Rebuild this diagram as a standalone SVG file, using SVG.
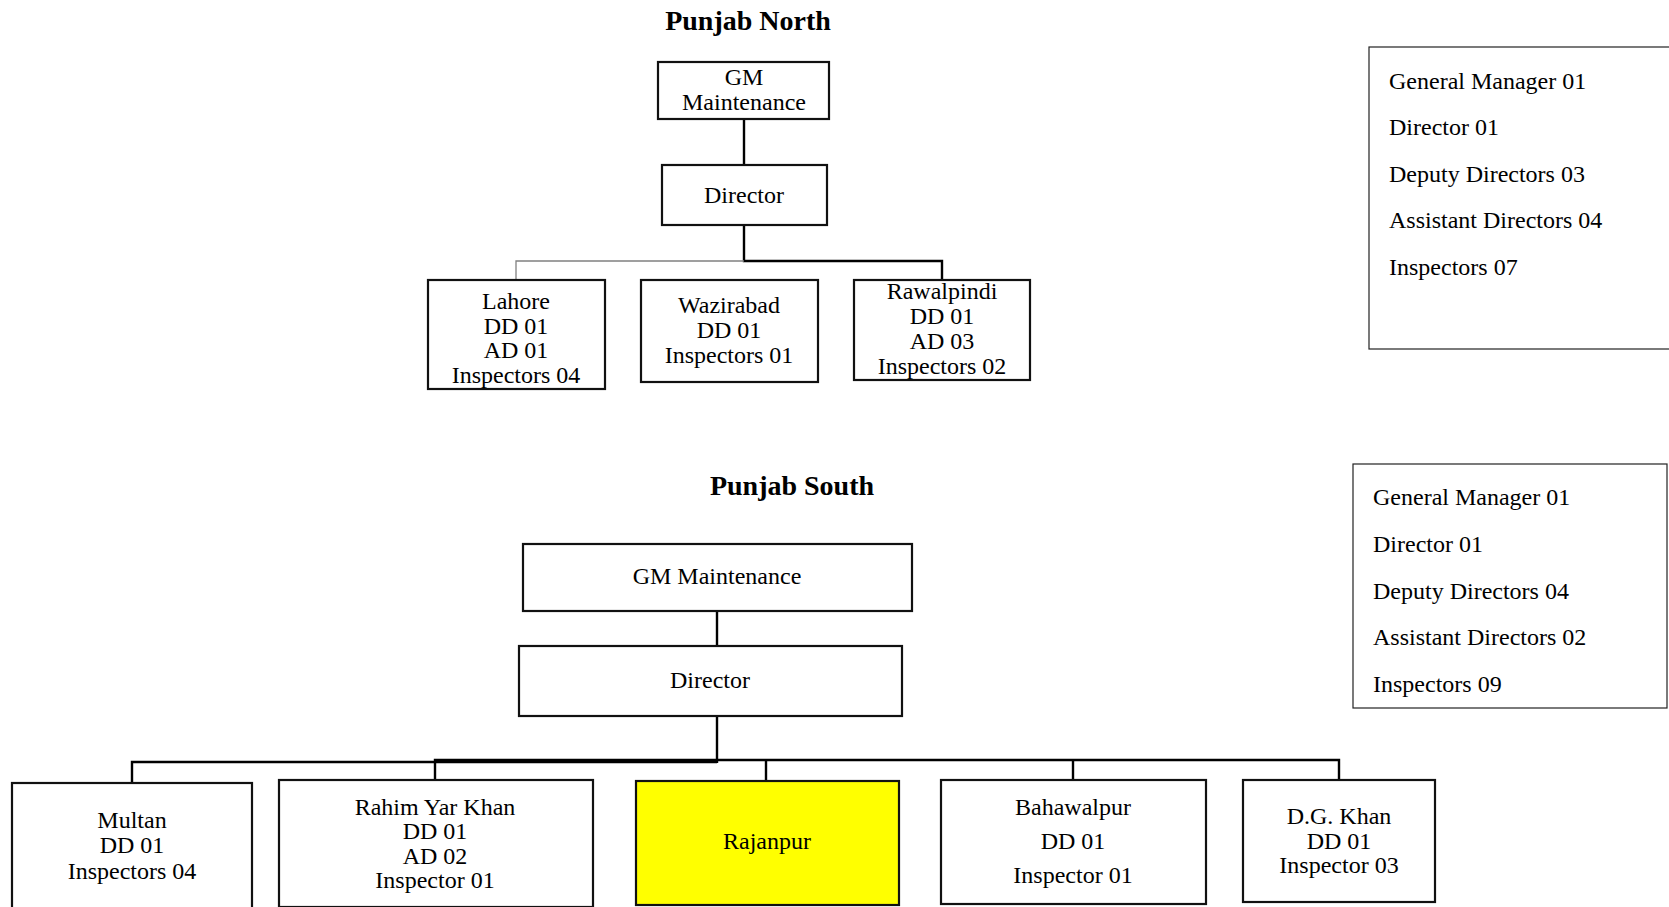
<svg xmlns="http://www.w3.org/2000/svg" width="1669" height="907" viewBox="0 0 1669 907">
  <style>
    .box { fill: #ffffff; stroke: #111111; stroke-width: 2.2; }
    .hi { fill: #ffff00; }
    .legend { fill: #ffffff; stroke: #222222; stroke-width: 1.2; }
    .t { font-family: "Liberation Serif", "Times New Roman", serif; font-size: 24px; fill: #000000; }
    .c { text-anchor: middle; }
    .title { font-family: "Liberation Serif", "Times New Roman", serif; font-size: 28px; font-weight: bold; text-anchor: middle; fill: #000000; }
    .link { fill: none; stroke: #000000; stroke-width: 2.4; }
    .thin { fill: none; stroke: #808080; stroke-width: 1.3; }
  </style>

  <rect width="1669" height="907" fill="#ffffff"/>

  <!-- ===== Punjab North ===== -->
  <text class="title" x="748" y="30">Punjab North</text>

  <g id="connectors-north">
    <path class="link" d="M744 119 V165"/>
    <path class="link" d="M744 225 V261 H942 V280"/>
    <path class="thin" d="M744 261 H516 V280"/>
  </g>

  <g id="north-gm">
    <rect class="box" x="658" y="62" width="171" height="57"/>
    <text class="t c" x="744" y="85">GM</text>
    <text class="t c" x="744" y="110">Maintenance</text>
  </g>
  <g id="north-director">
    <rect class="box" x="662" y="165" width="165" height="60"/>
    <text class="t c" x="744" y="203">Director</text>
  </g>
  <g id="north-lahore">
    <rect class="box" x="428" y="280" width="177" height="109"/>
    <text class="t c" x="516" y="309">Lahore</text>
    <text class="t c" x="516" y="334">DD 01</text>
    <text class="t c" x="516" y="358">AD 01</text>
    <text class="t c" x="516" y="383">Inspectors 04</text>
  </g>
  <g id="north-wazirabad">
    <rect class="box" x="641" y="280" width="177" height="102"/>
    <text class="t c" x="729" y="313">Wazirabad</text>
    <text class="t c" x="729" y="338">DD 01</text>
    <text class="t c" x="729" y="363">Inspectors 01</text>
  </g>
  <g id="north-rawalpindi">
    <rect class="box" x="854" y="280" width="176" height="100"/>
    <text class="t c" x="942" y="299">Rawalpindi</text>
    <text class="t c" x="942" y="324">DD 01</text>
    <text class="t c" x="942" y="349">AD 03</text>
    <text class="t c" x="942" y="374">Inspectors 02</text>
  </g>

  <g id="north-summary">
    <rect class="legend" x="1369" y="47" width="310" height="302"/>
    <text class="t" x="1389" y="89">General Manager 01</text>
    <text class="t" x="1389" y="135">Director 01</text>
    <text class="t" x="1389" y="182">Deputy Directors 03</text>
    <text class="t" x="1389" y="228">Assistant Directors 04</text>
    <text class="t" x="1389" y="275">Inspectors 07</text>
  </g>

  <!-- ===== Punjab South ===== -->
  <text class="title" x="792" y="495">Punjab South</text>

  <g id="connectors-south">
    <path class="link" d="M717 611 V646"/>
    <path class="link" d="M717 716 V763"/>
    <path class="link" d="M132 783 V762 H717"/>
    <path class="link" d="M435 781 V760 H717"/>
    <path class="link" d="M717 760 H1339 V780"/>
    <path class="link" d="M766 760 V781"/>
    <path class="link" d="M1073 760 V780"/>
  </g>

  <g id="south-gm">
    <rect class="box" x="523" y="544" width="389" height="67"/>
    <text class="t c" x="717" y="584">GM Maintenance</text>
  </g>
  <g id="south-director">
    <rect class="box" x="519" y="646" width="383" height="70"/>
    <text class="t c" x="710" y="688">Director</text>
  </g>
  <g id="south-multan">
    <rect class="box" x="12" y="783" width="240" height="130"/>
    <text class="t c" x="132" y="828">Multan</text>
    <text class="t c" x="132" y="853">DD 01</text>
    <text class="t c" x="132" y="879">Inspectors 04</text>
  </g>
  <g id="south-rahim-yar-khan">
    <rect class="box" x="279" y="780" width="314" height="127"/>
    <text class="t c" x="435" y="815">Rahim Yar Khan</text>
    <text class="t c" x="435" y="839">DD 01</text>
    <text class="t c" x="435" y="864">AD 02</text>
    <text class="t c" x="435" y="888">Inspector 01</text>
  </g>
  <g id="south-rajanpur">
    <rect class="box hi" x="636" y="781" width="263" height="124"/>
    <text class="t c" x="767" y="849">Rajanpur</text>
  </g>
  <g id="south-bahawalpur">
    <rect class="box" x="941" y="780" width="265" height="124"/>
    <text class="t c" x="1073" y="815">Bahawalpur</text>
    <text class="t c" x="1073" y="849">DD 01</text>
    <text class="t c" x="1073" y="883">Inspector 01</text>
  </g>
  <g id="south-dg-khan">
    <rect class="box" x="1243" y="780" width="192" height="122"/>
    <text class="t c" x="1339" y="824">D.G. Khan</text>
    <text class="t c" x="1339" y="849">DD 01</text>
    <text class="t c" x="1339" y="873">Inspector 03</text>
  </g>

  <g id="south-summary">
    <rect class="legend" x="1353" y="464" width="314" height="244"/>
    <text class="t" x="1373" y="505">General Manager 01</text>
    <text class="t" x="1373" y="552">Director 01</text>
    <text class="t" x="1373" y="599">Deputy Directors 04</text>
    <text class="t" x="1373" y="645">Assistant Directors 02</text>
    <text class="t" x="1373" y="692">Inspectors 09</text>
  </g>
</svg>
